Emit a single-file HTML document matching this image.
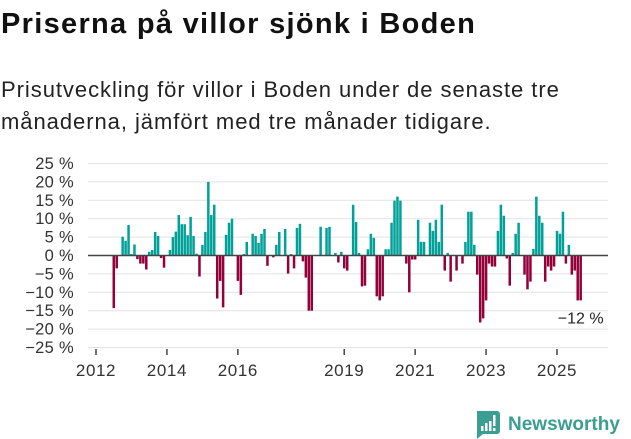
<!DOCTYPE html>
<html><head><meta charset="utf-8"><style>
body{margin:0;background:#fff;width:631px;height:439px;overflow:hidden;font-family:"Liberation Sans","DejaVu Sans",sans-serif}
</style></head><body>
<svg width="631" height="439" viewBox="0 0 631 439" style="position:absolute;left:0;top:0">
<text x="1" y="33" font-size="29" font-weight="bold" fill="#111" letter-spacing="1.3">Priserna på villor sjönk i Boden</text>
<text x="1" y="97" font-size="22" fill="#222" letter-spacing="0.95">Prisutveckling för villor i Boden under de senaste tre</text>
<text x="1" y="129" font-size="22" fill="#222" letter-spacing="0.95">månaderna, jämfört med tre månader tidigare.</text>
<g id="grid"></g>
<g id="ylabels"></g>
<g id="bars"></g>
<g id="xaxis"></g>
<text id="lastlabel" font-size="16" fill="#222" text-anchor="end"></text>
<g>
<path d="M477 411 h20 a3 3 0 0 1 3 3 v17 a3 3 0 0 1 -3 3 h-14 l-6 5 v-5 a3 3 0 0 1 0 0 z" fill="#3a9e92"/>
<rect x="481" y="426" width="2.5" height="5" fill="#fff"/><rect x="485" y="423" width="2.5" height="8" fill="#fff"/><rect x="489" y="421" width="2.5" height="10" fill="#fff"/><rect x="493" y="415" width="2.5" height="11" fill="#fff"/><rect x="493" y="428" width="2.5" height="3" fill="#fff"/>
<text x="508" y="430" font-size="19" font-weight="bold" fill="#3a9e92">Newsworthy</text>
</g>
</svg>
<script>
const months=[6,7,9,10,11,12,13,14,15,16,17,18,19,20,21,22,23,25,26,27,28,29,30,31,32,33,34,35,36,37,38,39,40,41,42,43,44,45,46,48,49,50,51,53,54,55,56,57,58,60,61,62,64,65,66,67,68,69,70,71,72,73,76,78,79,81,82,83,84,85,87,88,89,90,91,92,93,94,95,96,97,98,99,100,101,102,103,105,106,107,108,109,110,111,113,114,115,116,117,118,119,120,122,124,125,126,127,128,129,130,131,132,133,134,135,136,137,138,139,140,141,142,143,145,146,147,148,149,150,151,152,153,154,155,156,157,158,159,160,161,162,163,164];
const values=[-14.3,-3.5,5.1,4,8.3,0.4,3,-1,-2.2,-2.2,-3.8,1,1.5,6.4,5.3,-0.7,-3.3,1.5,5,6.5,11,8.5,8.5,5.5,10.5,5.3,0.5,-5.7,2.9,6.4,20,11,13.8,-11.7,-6.9,-14.1,5.6,8.9,10,-6.9,-10.7,0.4,3.7,5.9,5.3,3.4,5.9,7.2,-2.8,-0.5,2.9,6.4,7.2,-4.9,0.4,-3.5,7.5,8.6,-1.6,-6,-15,-15,7.8,7.5,7.8,0.7,-1.9,1,-3.5,-4.1,13.8,9.1,0.7,-8.4,-8.2,1.7,5.9,4.8,-11.1,-12.2,-11.1,1.7,1.7,8.9,14.9,16,14.9,-2.2,-10,-1.1,-1.1,9.7,3.7,3.7,8.9,6.7,9.7,3.7,13.8,-4.1,0.7,-7.1,-4.1,-2.2,3.7,11.9,11.9,2.9,-5.2,-18.2,-17.1,-12.2,-2.2,-3,-3,6.7,13.8,10.8,-0.8,-8.2,0.7,5.9,8.9,-5.2,-9.2,-7.1,1.8,16,10.8,8.9,-7.1,-3,-4.1,-3,6.7,5.9,11.9,-2.2,2.9,-5.2,-4.1,-12.2,-12.2];
const yTicks=[25,20,15,10,5,0,-5,-10,-15,-20,-25];
const xTickYears=[2012,2014,2016,2019,2021,2023,2025];
const NS='http://www.w3.org/2000/svg';
function y(v){return 255.5-v*3.68;}
function x(m){return 96+m*2.955;}
function mk(t,a,p){const e=document.createElementNS(NS,t);for(const k in a)e.setAttribute(k,a[k]);p.appendChild(e);return e;}
const grid=document.getElementById('grid'),yl=document.getElementById('ylabels'),bars=document.getElementById('bars'),xa=document.getElementById('xaxis');
yTicks.forEach(t=>{
 if(t!==0){const l=mk('line',{x1:88,x2:608,y1:y(t),y2:y(t),stroke:'#e2e2e2','stroke-width':1},grid);
 
 }
 const tx=mk('text',{x:74,y:y(t)+5.5,'font-size':16.5,'letter-spacing':0.3,fill:'#333','text-anchor':'end'},yl);
 
 
 tx.textContent=(t<0?'\u2212'+(-t):t)+' %';
});
months.forEach((m,i)=>{
 const v=values[i];const r=mk('rect',{x:x(m)-1.2,width:2.5,y:Math.min(y(v),y(0)),height:Math.abs(y(v)-y(0)),fill:v>=0?'#00a198':'#93003a'},bars);
 
 
});
const zl=mk('line',{x1:88,x2:608,y1:y(0),y2:y(0),stroke:'#444','stroke-width':1.5},bars);


xTickYears.forEach(yr=>{
 const xx=x((yr-2012)*12);
 const tk=mk('line',{x1:xx,x2:xx,y1:349,y2:355,stroke:'#444','stroke-width':1.5},xa);
 
 
 const t=mk('text',{x:xx,y:376,'font-size':17,'letter-spacing':0.6,fill:'#333','text-anchor':'middle'},xa);
 
 
 t.textContent=yr;
});
const lv=values[values.length-1];
const ll=document.getElementById('lastlabel');
ll.setAttribute('x',x(months[months.length-1])+23);
ll.setAttribute('y',y(lv)+23);
ll.textContent='\u2212'+Math.round(Math.abs(lv))+' %';
</script>
</body></html>
